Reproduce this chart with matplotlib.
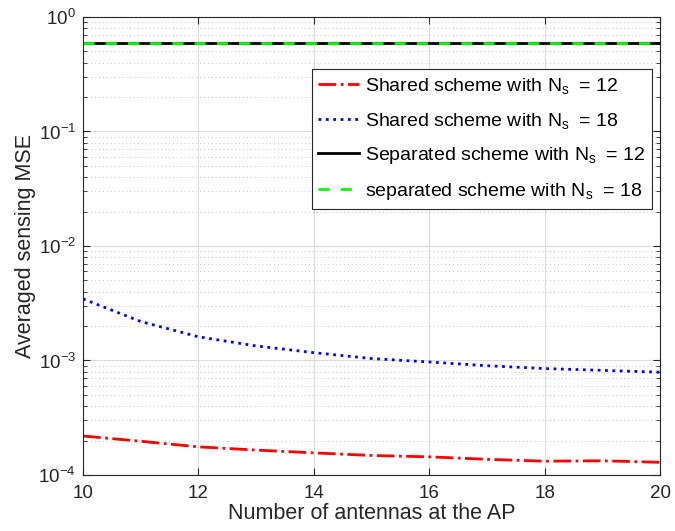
import numpy as np
import matplotlib
matplotlib.use('Agg')
import matplotlib.pyplot as plt
from matplotlib.ticker import LogLocator, NullFormatter

plt.rcParams['font.family'] = ['Liberation Sans', 'DejaVu Sans']
plt.rcParams['mathtext.fontset'] = 'custom'
plt.rcParams['mathtext.rm'] = 'Liberation Sans'
plt.rcParams['mathtext.it'] = 'Liberation Sans'

# data
antennas = [10, 11, 12, 13, 14, 15, 16, 17, 18, 19, 20]
shared_12 = [2.19e-4, 1.97e-4, 1.76e-4, 1.65e-4, 1.56e-4, 1.48e-4, 1.44e-4, 1.37e-4, 1.32e-4, 1.33e-4, 1.29e-4]
shared_18 = [3.45e-3, 2.19e-3, 1.61e-3, 1.34e-3, 1.17e-3, 1.04e-3, 9.7e-4, 9.0e-4, 8.5e-4, 8.2e-4, 7.9e-4]
separated_12 = [0.59] * len(antennas)
separated_18 = [0.59] * len(antennas)

labels = [r'Shared scheme with N$_{\mathregular{s}}\;$ = 12',
          r'Shared scheme with N$_{\mathregular{s}}\;$ = 18',
          r'Separated scheme with N$_{\mathregular{s}}\;$ = 12',
          r'separated scheme with N$_{\mathregular{s}}\;$ = 18']

fig = plt.figure(figsize=(6.75, 5.31), dpi=100)
ax = fig.add_axes([0.123, 0.1055, 0.855, 0.8625])

ax.plot(antennas, shared_12, color='red', linestyle='-.', linewidth=2, label=labels[0])
ax.plot(antennas, shared_18, color='blue', linestyle=':', linewidth=2, label=labels[1])
ax.plot(antennas, separated_12, color='black', linestyle='-', linewidth=2, label=labels[2])
ax.plot(antennas, separated_18, color=(0.0, 1.0, 0.0), linestyle=(0, (4, 4)), linewidth=2, label=labels[3])

ax.set_yscale('log')
ax.set_xlim(10, 20)
ax.set_ylim(1e-4, 1)
ax.set_xticks([10, 12, 14, 16, 18, 20])
ax.yaxis.set_major_locator(LogLocator(base=10, numticks=10))
ax.yaxis.set_minor_locator(LogLocator(base=10, subs=np.arange(2, 10), numticks=50))
ax.yaxis.set_minor_formatter(NullFormatter())

ax.grid(True, which='major', color='#dcdcdc', linestyle='-', linewidth=0.8)
ax.grid(True, which='minor', axis='y', color='#c8c8c8', linestyle=(0, (1, 3)), linewidth=0.7)
ax.set_axisbelow(True)

ax.tick_params(which='both', direction='in', top=True, right=True, labelsize=13.5, colors='#262626')
ax.tick_params(which='major', length=5)
ax.tick_params(which='minor', length=3)
ax.tick_params(axis='x', pad=7)
ax.tick_params(axis='y', pad=5)
for s in ax.spines.values():
    s.set_color('#262626')
    s.set_linewidth(0.8)

ax.set_xlabel('Number of antennas at the AP', fontsize=15.5, color='#262626', labelpad=1)
ax.set_ylabel('Averaged sensing MSE', fontsize=15.5, color='#262626', labelpad=2)

leg = ax.legend(loc='upper right', bbox_to_anchor=(0.986, 0.886), fontsize=14,
                fancybox=False, edgecolor='#262626', framealpha=1,
                handlelength=2.1, labelspacing=0.75, borderpad=0.35, borderaxespad=0,
                handletextpad=0.3)
leg.get_frame().set_linewidth(0.8)

fig.savefig('out.png', dpi=100)
